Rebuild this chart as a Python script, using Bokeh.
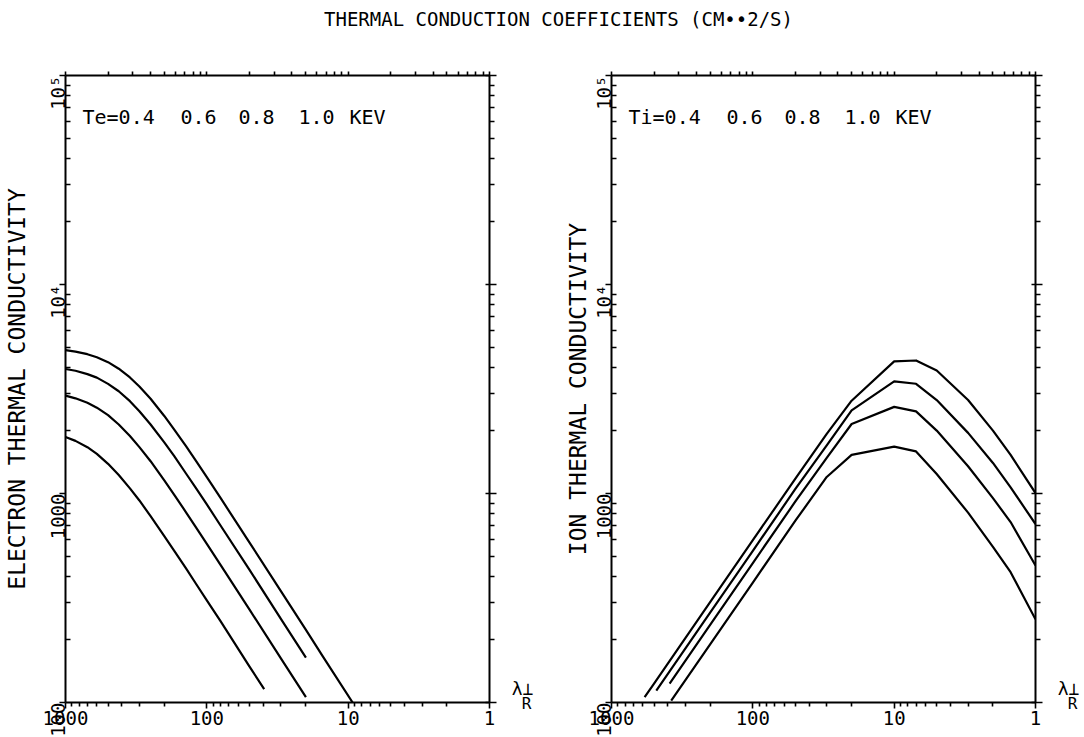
import math
from bokeh.plotting import figure
from bokeh.models import Range1d, LogAxis, LogScale, FixedTicker, Label
from bokeh.layouts import column, row
from bokeh.embed import file_html
from bokeh.resources import INLINE

FONT = "DejaVu Sans Mono"

TITLE = "THERMAL CONDUCTION COEFFICIENTS (CM••2/S)"

x_major = [1, 10, 100, 1000]
x_labels = ["1", "10", "100", "1000"]
y_major = [100, 1000, 10000, 100000]
y_labels = ["100", "1000", "10⁴", "10⁵"]
x_minor = [m * 10 ** d for d in (0, 1, 2) for m in range(2, 10)]
y_minor = [m * 10 ** d for d in (2, 3, 4) for m in range(2, 10)]

temp_labels = ["0.4", "0.6", "0.8", "1.0"]

# electron thermal conductivity (left panel), lambda_perp / R  vs  cm^2/s
e_x_10 = [1000, 850, 700, 600, 500, 420, 350, 300, 250, 200, 170, 140, 120, 100, 80, 50, 30, 20, 15, 9.3]
e_y_10 = [4850, 4773, 4640, 4487, 4250, 3955, 3590, 3250, 2840, 2350, 2020, 1679, 1440, 1197, 952, 584, 342, 224, 165, 100]
e_x_08 = [1000, 850, 700, 600, 500, 420, 350, 300, 250, 200, 170, 140, 120, 100, 80, 50, 30, 19.9]
e_y_08 = [3940, 3865, 3725, 3584, 3347, 3085, 2765, 2475, 2139, 1756, 1509, 1243, 1066, 887, 703, 432, 252, 164]
e_x_06 = [1000, 850, 700, 600, 500, 420, 350, 300, 250, 200, 170, 140, 120, 100, 80, 50, 30, 19.9]
e_y_06 = [2940, 2853, 2718, 2574, 2370, 2139, 1885, 1667, 1427, 1156, 986, 811, 693, 574, 456, 279, 163, 106]
e_x_04 = [1000, 850, 700, 600, 500, 420, 350, 300, 250, 200, 170, 140, 120, 100, 80, 50, 39.3]
e_y_04 = [1862, 1786, 1665, 1547, 1387, 1225, 1058, 926, 779, 626, 532, 437, 372, 308, 245, 149, 116]

# ion thermal conductivity (right panel)
i_x_10 = [583, 500, 200, 100, 50, 30, 20, 10, 7, 5, 3, 2, 1.5, 1]
i_y_10 = [106, 123, 303, 598, 1177, 1930, 2780, 4285, 4330, 3880, 2800, 2000, 1530, 1005]
i_x_08 = [482, 200, 100, 50, 30, 20, 10, 7, 5, 3, 2, 1.5, 1]
i_y_08 = [114, 270, 532, 1051, 1700, 2500, 3440, 3350, 2800, 1950, 1400, 1070, 714]
i_x_06 = [388, 200, 100, 50, 30, 20, 10, 7, 5, 3, 2, 1.5, 1]
i_y_06 = [123, 236, 465, 916, 1480, 2150, 2597, 2470, 2000, 1350, 950, 730, 452]
i_x_04 = [378, 200, 100, 50, 30, 20, 10, 7, 5, 3, 2, 1.5, 1]
i_y_04 = [102, 190, 375, 741, 1200, 1530, 1675, 1590, 1240, 810, 556, 420, 250]

electron = [(e_x_04, e_y_04), (e_x_06, e_y_06), (e_x_08, e_y_08), (e_x_10, e_y_10)]
ion = [(i_x_04, i_y_04), (i_x_06, i_y_06), (i_x_08, i_y_08), (i_x_10, i_y_10)]


def style_axis(ax, labels, tin, tout, min_in, min_out, standoff=2):
    ax.axis_line_color = "black"
    ax.axis_line_width = 2
    ax.major_tick_line_color = "black"
    ax.major_tick_line_width = 1.6
    ax.minor_tick_line_color = "black"
    ax.minor_tick_line_width = 1.6
    ax.major_tick_in = tin
    ax.major_tick_out = tout
    ax.minor_tick_in = min_in
    ax.minor_tick_out = min_out
    ax.major_label_overrides = labels
    ax.major_label_text_font = FONT
    ax.major_label_text_font_size = "19px"
    ax.major_label_text_color = "black"
    ax.major_label_standoff = standoff


def panel(width, bl, br, bt, bb, ylab, lab_standoff, curves, prefix):
    p = figure(width=width, height=697, x_axis_type="log", y_axis_type="log",
               x_range=Range1d(1000, 1), y_range=Range1d(100, 1e5),
               output_backend="svg", toolbar_location=None,
               min_border_left=bl, min_border_right=br,
               min_border_top=bt, min_border_bottom=bb,
               outline_line_color=None, background_fill_color="white",
               border_fill_color="white")
    p.grid.visible = False
    xb = p.below[0]
    yl = p.left[0]
    p.extra_x_ranges = {"top": Range1d(1, 1000)}
    p.extra_x_scales = {"top": LogScale()}
    top = LogAxis(x_range_name="top")
    right = LogAxis()
    p.add_layout(top, "above")
    p.add_layout(right, "right")

    xb.ticker = FixedTicker(ticks=x_major, minor_ticks=x_minor)
    style_axis(xb, {v: s for v, s in zip(x_major, x_labels)}, 0, 6, 0, 4)
    top.ticker = FixedTicker(ticks=x_major, minor_ticks=x_minor)
    style_axis(top, {v: "" for v in x_major}, 0, 4, 0, 4)

    yl.ticker = FixedTicker(ticks=y_major, minor_ticks=y_minor)
    style_axis(yl, {v: s for v, s in zip(y_major, y_labels)}, 0, 6, 5, 0)
    yl.major_label_orientation = math.pi / 2
    yl.axis_label = ylab
    yl.axis_label_text_font = FONT
    yl.axis_label_text_font_size = "23px"
    yl.axis_label_text_font_style = "normal"
    yl.axis_label_text_color = "black"
    yl.axis_label_standoff = lab_standoff
    right.ticker = FixedTicker(ticks=y_major, minor_ticks=y_minor)
    style_axis(right, {v: "" for v in y_major}, 4, 7, 0, 5)

    for xs, ys in curves:
        p.line(xs, ys, line_color="black", line_width=2.2, line_join="round")

    offsets = [17, 115, 173, 233, 284]
    texts = [prefix + "=" + temp_labels[0]] + temp_labels[1:] + ["KEV"]
    for off, t in zip(offsets, texts):
        p.add_layout(Label(x=1000, y=1e5, x_offset=off, y_offset=-41, text=t,
                           text_font=FONT, text_font_size="20px",
                           text_baseline="middle", text_color="black"))
    p.add_layout(Label(x=1, y=100, x_offset=33, y_offset=14, text="λ⊥",
                       text_font=FONT, text_font_size="18px", text_align="center",
                       text_baseline="middle", text_color="black"), "right")
    p.add_layout(Label(x=1, y=100, x_offset=37, y_offset=-1, text="R",
                       text_font=FONT, text_font_size="16px", text_align="center",
                       text_baseline="middle", text_color="black"), "right")
    return p


p0 = figure(width=1084, height=40, x_range=Range1d(0, 1084), y_range=Range1d(0, 40),
            output_backend="svg", toolbar_location=None, min_border=0,
            x_axis_location=None, y_axis_location=None, outline_line_color=None)
p0.grid.visible = False
p0.add_layout(Label(x=558, y=22, text=TITLE, text_font=FONT, text_font_size="19px",
                    text_align="center", text_baseline="middle", text_color="black"))

p1 = panel(545, 65, 56, 35, 32, "ELECTRON THERMAL CONDUCTIVITY", 3, electron, "Te")
p2 = panel(539, 66, 49, 32, 35, "ION THERMAL CONDUCTIVITY", -12, ion, "Ti")

layout = column(p0, row(p1, p2))
open("out.html", "w").write(file_html(layout, INLINE))
